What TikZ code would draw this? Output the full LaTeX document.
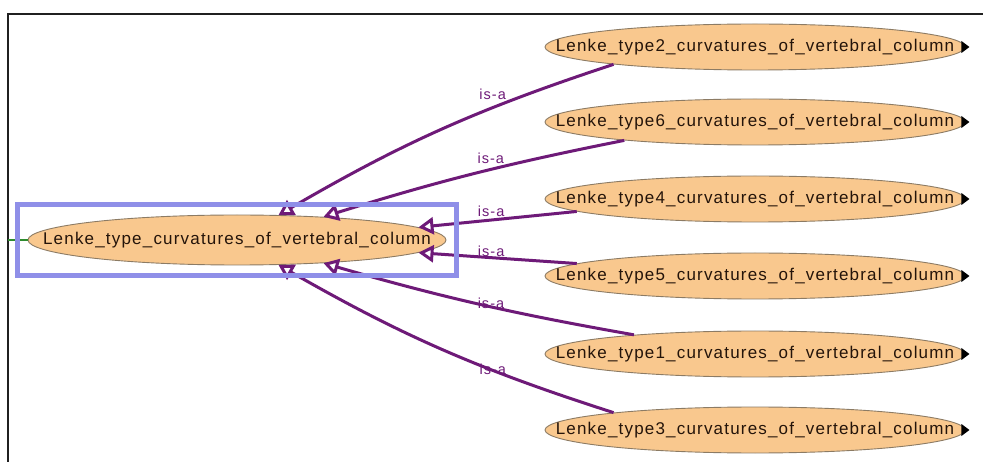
\documentclass[tikz,border=0pt]{standalone}
\usepackage{fontspec}
\usepackage{tikz}
\usetikzlibrary{arrows.meta, positioning, calc, fit, shapes.geometric}
\newfontfamily\ontofont{Liberation Sans}[LetterSpace=7]
\definecolor{opeach}{HTML}{F9C88E}
\definecolor{orim}{HTML}{8C7B64}
\definecolor{otext}{HTML}{24140A}
\definecolor{opurple}{HTML}{6E1A78}
\definecolor{osel}{HTML}{8F8FE8}
\definecolor{ostub}{HTML}{2E8B2E}
\definecolor{oframe}{HTML}{202020}
\tikzset{
  cls/.style={
    ellipse, draw=orim, fill=opeach, line width=0.9pt, inner sep=0pt,
    minimum width=420pt, minimum height=46pt, text=otext,
    font=\ontofont\fontsize{17}{20}\selectfont
  },
  isa/.style={
    draw=opurple, line width=3pt,
    -{Triangle[open, length=15pt, width=17pt]}
  },
  rel/.style={anchor=south east, inner sep=0.5pt, text=opurple,
    font=\ontofont\fontsize{14.5}{16}\selectfont},
  sel/.style={draw=osel, line width=4.5pt, inner sep=10pt},
  stub/.style={draw=ostub, line width=2.6pt},
  frame/.style={draw=oframe, line width=2.2pt}
}
\newcommand{\clsname}[1]{\makebox[0pt]{#1}}

\begin{document}
\begin{tikzpicture}[x=1pt, y=-1pt]
  \useasboundingbox[fill=white] (0,0) rectangle (983,462);
  \draw[frame] (8,462) -- (8,14) -- (983,14);

  % parent class
  \node[cls, minimum width=418pt, minimum height=50pt] (main) at (237,240)
    {\clsname{Lenke\_type\_curvatures\_of\_vertebral\_column}};
  \coordinate (stubend) at (8,240);
  \draw[stub] (stubend) -- (main.west);

  % subclasses on the right
  \foreach \k/\y in {2/47, 6/122, 4/199, 5/276, 1/354, 3/430}
    \node[cls] (t\k) at (755,\y)
      {\clsname{Lenke\_type\k\_curvatures\_of\_vertebral\_column}};
  \foreach \k in {2,6,4,5,1,3}
    \fill ($(t\k.east)+(-4,-6)$) -- ++(8,6) -- ++(-8,6) -- cycle;

  % edges into the parent class
  \foreach \k/\from/\to/\bnd/\p in
      {2/187/31.5/-6/0.29, 6/188.4/15/-3/0.38, 4/184/4.2/0/0.44,
       5/176/-4.2/0/0.44, 1/171.4/-15/3/0.40, 3/173.3/-31.5/6/0.29}
    \draw[isa] (t\k.\from) to[bend left=\bnd] node[rel, pos=\p] {is-a} (main.\to);

  \node[sel, fit=(main)] (selbox) {};
\end{tikzpicture}
\end{document}
